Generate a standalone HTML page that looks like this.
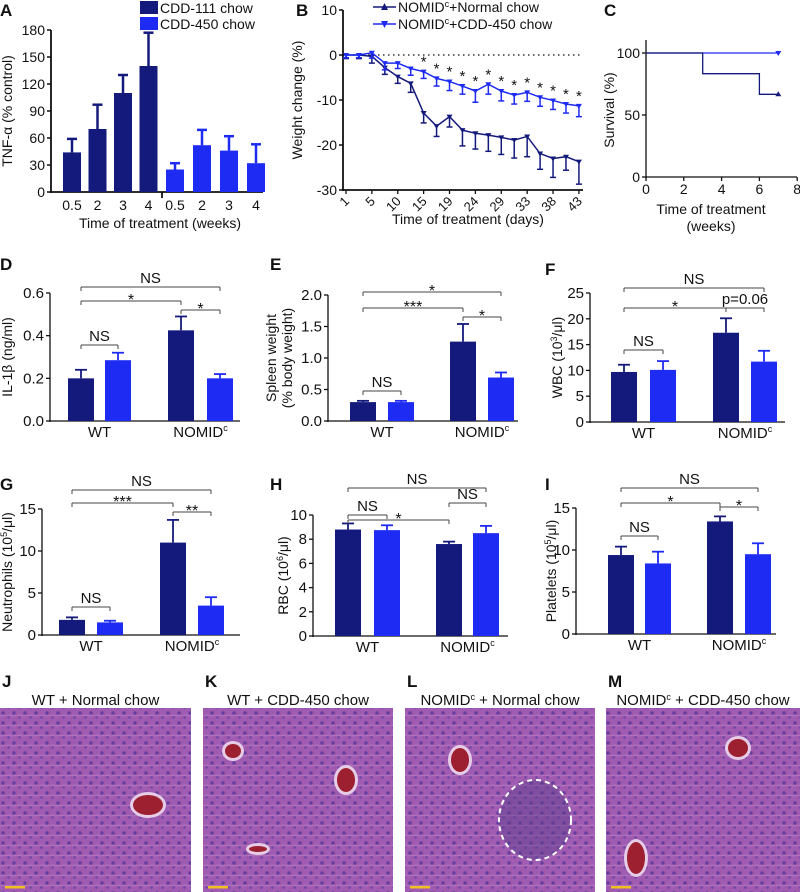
<!DOCTYPE html>
<html><head><meta charset="utf-8"><style>
html,body{margin:0;padding:0;background:#fff;}
svg{display:block;font-family:"Liberation Sans",Arial,sans-serif;}
</style></head><body>
<svg id="fig" width="800" height="892" viewBox="0 0 800 892" xmlns="http://www.w3.org/2000/svg">
<defs>
<pattern id="cells" width="11" height="10" patternUnits="userSpaceOnUse"><rect width="11" height="10" fill="#9f5cb2"/><circle cx="3" cy="3" r="1.7" fill="#56379a" opacity="0.8"/><circle cx="8.5" cy="7.5" r="1.4" fill="#5a3a9c" opacity="0.6"/><path d="M0 6 L11 5" stroke="#c58fc8" stroke-width="0.7" opacity="0.7"/><path d="M6 0 L5 10" stroke="#b0407a" stroke-width="0.5" opacity="0.5"/></pattern>
</defs>
</svg>
<script>
// ---- data ----
const aCats = ["0.5","2","3","4","0.5","2","3","4"];
const aVals = [44,70,110,140,25,52,46,32];
const aErr  = [15,27,20,37,7,17,16,21];
const aTicks = [0,30,60,90,120,150,180];

const bDayLabels = ["1","5","10","15","19","24","29","33","38","43"];
const bNormal = [0,0,-0.3,-2.8,-4.8,-6.3,-12.9,-15.8,-13.7,-16.7,-17.4,-17.8,-18.3,-18.9,-18.1,-21.9,-23,-22.6,-23.7];
const bNormalErr = [0.8,0.8,1.5,1.5,1.5,2,2.2,2.3,2.3,3.5,3.5,3.6,3.8,4,4.5,3.5,4.2,3,5];
const bCdd = [0,0,0.5,-1.8,-1.8,-3,-3.7,-5.2,-5.9,-6.9,-8,-6.5,-8,-8.9,-8.3,-9.4,-10.1,-10.9,-11.3];
const bCddErr = [0.6,0.6,1.2,1.5,1.2,1.5,1.5,1.7,2,1.8,2.5,2.2,2.2,2,2,2,2,2,2.4];
const bTicks = [10,0,-10,-20,-30];

const cNormalT = [0,3,3,6,6,7];
const cNormalS = [100,100,83.3,83.3,66.7,66.7];
const cCddT = [0,7];
const cCddS = [100,100];
const cXTicks = [0,2,4,6,8];
const cYTicks = [0,50,100];

const dVals = [0.2,0.285,0.425,0.2];   const dErr = [0.04,0.035,0.065,0.02];  const dTicks=[0,0.2,0.4,0.6];
const eVals = [0.3,0.3,1.26,0.69];     const eErr = [0.02,0.02,0.28,0.08];    const eTicks=[0,0.5,1.0,1.5,2.0];
const fVals = [9.7,10.1,17.3,11.7];    const fErr = [1.4,1.7,2.8,2.1];        const fTicks=[0,5,10,15,20,25];
const gVals = [1.8,1.5,11,3.5];        const gErr = [0.3,0.2,2.7,1.0];        const gTicks=[0,5,10,15];
const hVals = [8.8,8.75,7.6,8.5];      const hErr = [0.5,0.4,0.2,0.6];        const hTicks=[0,2,4,6,8,10];
const iVals = [9.4,8.4,13.4,9.5];      const iErr = [1.0,1.4,0.6,1.3];        const iTicks=[0,5,10,15];
const groups = ["WT","NOMID"];

const DARK="#141a7c", BLUE="#1e2bf3", INK="#111", GREY="#444";
const svg=document.getElementById('fig');
const NS="http://www.w3.org/2000/svg";
function mk(tag,attrs,parent,text){const e=document.createElementNS(NS,tag);for(const k in attrs)e.setAttribute(k,attrs[k]);if(text!==undefined)e.textContent=text;(parent||svg).appendChild(e);return e;}
function grp(name){const g=mk('g',{});return g;}
function txt(g,x,y,s,size,anchor,extra){const t=mk('text',Object.assign({x:x,y:y,'font-size':size,'text-anchor':anchor||'middle',fill:INK},extra||{}),g,s);return t;}
function lin(g,x1,y1,x2,y2,c,w,extra){return mk('line',Object.assign({x1:x1,y1:y1,x2:x2,y2:y2,stroke:c||INK,'stroke-width':w||1.5},extra||{}),g);}
function letter(s,x,y){const g=grp('panel-label-'+s.toLowerCase());txt(g,x,y,s,17,'start',{'font-weight':'bold'});}

// ---- Panel A ----
(function(){
 const g=grp('panel-a-tnf-chart');
 letter('A',0,16);
 const x0=51,x1=263,yTop=30,yBot=192,max=180;
 const y=v=>yBot-(v/max)*(yBot-yTop);
 const xc=i=>(i<4?72+i*25.5:175+(i-4)*27);
 lin(g,x0,yTop,x0,yBot+1,INK,1.8);lin(g,x0-1,yBot,x1,yBot,INK,1.8);lin(g,162,yBot,162,yBot+6,INK,1.8);
 aTicks.forEach(t=>{lin(g,x0-4,y(t),x0,y(t),INK,1.5);const l=txt(g,x0-6,y(t)+5,String(t),14,'end');});
 aVals.forEach((v,i)=>{
  const c=i<4?DARK:BLUE,cx=xc(i);
  const b=mk('rect',{x:cx-9,y:y(v),width:18,height:yBot-y(v),fill:c},g);
  
  
  lin(g,cx,y(v),cx,y(v+aErr[i]),c,2.5);lin(g,cx-5,y(v+aErr[i]),cx+5,y(v+aErr[i]),c,2.5);
  const l=txt(g,cx,210,aCats[i],14);
 });
 const yt=txt(g,0,0,'TNF-α (% control)',14,'middle',{transform:'translate(12,'+((yTop+yBot)/2)+') rotate(-90)'});
 
 const xt=txt(g,160,228,'Time of treatment (weeks)',14);
 const lg=grp('legend-a');
 mk('rect',{x:140,y:1,width:18,height:13,fill:DARK},lg);txt(lg,160,13,'CDD-111 chow',14,'start');
 mk('rect',{x:140,y:17,width:18,height:13,fill:BLUE},lg);txt(lg,160,29,'CDD-450 chow',14,'start');
})();

// ---- Panel B ----
(function(){
 const g=grp('panel-b-weight-chart');
 letter('B',296,16);
 const ax=343,yTop=10,yBot=190,x1=583;
 const y=v=>55-v*4.5;
 const x=i=>346+i*12.94;
 lin(g,ax,yTop,ax,yBot+1,INK,1.8);lin(g,ax-1,yBot,x1,yBot,INK,1.8);
 bTicks.forEach(t=>{lin(g,ax-4,y(t),ax,y(t),INK,1.5);const l=txt(g,ax-6,y(t)+5,String(t),14,'end');});
 lin(g,ax,55,x1,55,INK,1.3,{'stroke-dasharray':'1.5,3.5'});
 bDayLabels.forEach((d,k)=>{const px=x(k*2);lin(g,px,yBot,px,yBot+4,INK,1.3);const l=txt(g,px+4,yBot+12,d,13,'end',{transform:'rotate(-45 '+(px+4)+' '+(yBot+12)+')'});});
 function series(vals,err,c,name,up){
  const sg=grp('series-'+name);
  let d='';vals.forEach((v,i)=>{d+=(i?'L':'M')+x(i)+' '+y(v);});
  mk('path',{d:d,fill:'none',stroke:c,'stroke-width':1.5},sg);
  vals.forEach((v,i)=>{
   const ye=up?y(v+err[i]):y(v-err[i]);
   lin(sg,x(i),y(v),x(i),ye,c,1.5);lin(sg,x(i)-3,ye,x(i)+3,ye,c,1.5);
   const p=up?`${x(i)-3},${y(v)+2} ${x(i)+3},${y(v)+2} ${x(i)},${y(v)-3}`:`${x(i)-3},${y(v)-2} ${x(i)+3},${y(v)-2} ${x(i)},${y(v)+3}`;
   const m=mk('polygon',{points:p,fill:c},sg);
   
  });
 }
 series(bNormal,bNormalErr,DARK,'normal-chow',false);
 series(bCdd,bCddErr,BLUE,'cdd450-chow',false);
 bCdd.forEach((v,i)=>{if(i>=6){const s=txt(g,x(i),y(v)-5,'*',15);}});
 const yt=txt(g,0,0,'Weight change (%)',14,'middle',{transform:'translate(302,100) rotate(-90)'});
 const xt=txt(g,468,224,'Time of treatment (days)',14);
 const lg=grp('legend-b');
 lin(lg,373,7,396,7,DARK,1.5);mk('polygon',{points:'381,10 388,10 384.5,3',fill:DARK},lg);
 const t1=txt(lg,398,12,'',14,'start');t1.innerHTML='NOMID<tspan font-size="9" dy="-5">c</tspan><tspan dy="5">+Normal chow</tspan>';
 lin(lg,373,24,396,24,BLUE,1.5);mk('polygon',{points:'381,21 388,21 384.5,28',fill:BLUE},lg);
 const t2=txt(lg,398,29,'',14,'start');t2.innerHTML='NOMID<tspan font-size="9" dy="-5">c</tspan><tspan dy="5">+CDD-450 chow</tspan>';
})();

// ---- Panel C ----
(function(){
 const g=grp('panel-c-survival-chart');
 letter('C',604,16);
 const ax=646,yTop=40,yBot=177,x1=797;
 const x=v=>ax+v*18.9,y=v=>yBot-v*1.24;
 lin(g,ax,yTop,ax,yBot+1,INK,1.3);lin(g,ax-1,yBot,x1,yBot,INK,1.3);
 cYTicks.forEach(t=>{lin(g,ax-4,y(t),ax,y(t),INK,1.3);const l=txt(g,ax-6,y(t)+5,String(t),14,'end');});
 cXTicks.forEach(t=>{lin(g,x(t),yBot,x(t),yBot+4,INK,1.3);const l=txt(g,x(t),yBot+17,String(t),14);});
 function step(T,S,c,name,up){let d='';T.forEach((t,i)=>{d+=(i?'L':'M')+x(t)+' '+y(S[i]);});
  const p=mk('path',{d:d,fill:'none',stroke:c,'stroke-width':1.3},g);
  const lt=T[T.length-1],ls=S[S.length-1];mk('polygon',{points:up?`${x(lt)-3},${y(ls)+2} ${x(lt)+3},${y(ls)+2} ${x(lt)},${y(ls)-3}`:`${x(lt)-3},${y(ls)-2} ${x(lt)+3},${y(ls)-2} ${x(lt)},${y(ls)+3}`,fill:c},g);}
 step(cCddT,cCddS,BLUE,'cdd450',false);
 step(cNormalT,cNormalS,DARK,'normal',true);
 const yt=txt(g,0,0,'Survival (%)',14,'middle',{transform:'translate(614,110) rotate(-90)'});
 const xt=txt(g,711,214,'Time of treatment',14);
 txt(g,711,231,'(weeks)',14);
})();

// ---- bar panels ----
function barPanel(o){
 const g=grp(o.name);
 letter(o.letter,o.lx,o.ly);
 const y=v=>o.yBot-(v/o.max)*(o.yBot-o.yTop);
 lin(g,o.ax,o.yTop,o.ax,o.yBot+1,INK,1.3);lin(g,o.ax-1,o.yBot,o.ax+o.w,o.yBot,INK,1.3);
 o.ticks.forEach(t=>{lin(g,o.ax-4,y(t),o.ax,y(t),INK,1.3);const l=txt(g,o.ax-6,y(t)+5,o.fmt?t.toFixed(1):String(t),15,'end');});
 const cx=o.bx.map(b=>o.ax+b+13);
 o.vals.forEach((v,i)=>{
  const c=i%2?BLUE:DARK;
  const b=mk('rect',{x:cx[i]-13,y:y(v),width:26,height:o.yBot-y(v),fill:c},g);
  
  
  const ye=y(v+o.err[i]);lin(g,cx[i],y(v),cx[i],ye,c,1.8);lin(g,cx[i]-6,ye,cx[i]+6,ye,c,1.8);
 });
 [0,1].forEach(k=>{const mx=(cx[2*k]+cx[2*k+1])/2;const l=txt(g,mx,o.yBot+16,'',15);l.innerHTML=k?'NOMID<tspan font-size="9" dy="-6">c</tspan>':'WT';});
 o.br.forEach(b=>{const bg=grp('significance-bracket');const a=cx[b[0]],z=cx[b[1]];
  lin(bg,a,b[2],z,b[2],GREY,1);lin(bg,a,b[2],a,b[2]+4,GREY,1);lin(bg,z,b[2],z,b[2]+4,GREY,1);
  txt(bg,(a+z)/2,b[2]-(b[3]==='NS'||b[3].startsWith('p')?4:-4),b[3],b[3].startsWith('*')?16:15);});
 const yt=txt(g,0,0,'',14,'middle',{transform:'translate('+o.tx+','+((o.yTop+o.yBot)/2)+') rotate(-90)'});yt.innerHTML=o.title;
 
}
barPanel({name:'panel-d-il1b-chart',letter:'D',lx:0,ly:270,ax:50,w:190,yTop:293,yBot:421,max:0.6,ticks:dTicks,fmt:1,vals:dVals,err:dErr,bx:[18,55,118,157],tx:12,title:'IL-1β (ng/ml)',
 br:[[0,3,287,'NS'],[0,2,301,'*'],[2,3,310,'*'],[0,1,345,'NS']]});
barPanel({name:'panel-e-spleen-chart',letter:'E',lx:270,ly:270,ax:328,w:190,yTop:295,yBot:421,max:2.0,ticks:eTicks,fmt:1,vals:eVals,err:eErr,bx:[22,60,122,160],tx:281,
 title:'<tspan x="0" dy="-5">Spleen weight</tspan><tspan x="0" dy="16">(% body weight)</tspan>',br:[[0,3,292,'*'],[0,2,308,'***'],[2,3,317,'*'],[0,1,391,'NS']]});
barPanel({name:'panel-f-wbc-chart',letter:'F',lx:545,ly:275,ax:590,w:195,yTop:293,yBot:422,max:25,ticks:fTicks,vals:fVals,err:fErr,bx:[21,60,123,161],tx:562,
 title:'WBC (10<tspan font-size="9" dy="-5">3</tspan><tspan dy="5">/μl)</tspan>',br:[[0,3,288,'NS'],[0,2,308,'*'],[2,3,308,'p=0.06'],[0,1,350,'NS']]});
barPanel({name:'panel-g-neutrophils-chart',letter:'G',lx:0,ly:490,ax:42,w:198,yTop:509,yBot:635,max:15,ticks:gTicks,vals:gVals,err:gErr,bx:[17,55,118,156],tx:12,
 title:'Neutrophils (10<tspan font-size="9" dy="-5">5</tspan><tspan dy="5">/μl)</tspan>',br:[[0,3,490,'NS'],[0,2,503,'***'],[2,3,512,'**'],[0,1,607,'NS']]});
barPanel({name:'panel-h-rbc-chart',letter:'H',lx:270,ly:490,ax:313,w:195,yTop:515,yBot:636,max:10,ticks:hTicks,vals:hVals,err:hErr,bx:[22,61,123,160],tx:288,
 title:'RBC (10<tspan font-size="9" dy="-5">6</tspan><tspan dy="5">/μl)</tspan>',br:[[0,3,488,'NS'],[0,2,520,'*'],[2,3,503,'NS'],[0,1,515,'NS']]});
barPanel({name:'panel-i-platelets-chart',letter:'I',lx:545,ly:490,ax:576,w:200,yTop:508,yBot:634,max:15,ticks:iTicks,vals:iVals,err:iErr,bx:[32,69,131,169],tx:556,
 title:'Platelets (10<tspan font-size="9" dy="-5">5</tspan><tspan dy="5">/μl)</tspan>',br:[[0,3,488,'NS'],[0,2,503,'*'],[2,3,507,'*'],[0,1,536,'NS']]});

// ---- histology ----
const histo=[{l:'J',x:0,w:191,t:'WT + Normal chow'},{l:'K',x:203,w:190,t:'WT + CDD-450 chow'},{l:'L',x:405,w:190,t:'NOMID<tspan font-size="9" dy="-5">c</tspan><tspan dy="5"> + Normal chow</tspan>'},{l:'M',x:606,w:194,t:'NOMID<tspan font-size="9" dy="-5">c</tspan><tspan dy="5"> + CDD-450 chow</tspan>'}];
const vessels={J:[[148,97,15,10]],K:[[30,43,8,7],[143,72,9,12],[55,141,9,3]],L:[[55,52,9,12]],M:[[132,40,10,9],[30,150,9,16]]};
histo.forEach(h=>{
 const g=grp('histology-'+h.l.toLowerCase());
 letter(h.l,h.x+2,687);
 const t=txt(g,h.x+h.w/2,705,'',15);t.innerHTML=h.t;
 const r=mk('rect',{x:h.x,y:708,width:h.w,height:184,fill:'url(#cells)'},g);
 
 vessels[h.l].forEach(v=>{mk('ellipse',{cx:h.x+v[0],cy:708+v[1],rx:v[2]+3,ry:v[3]+3,fill:'#e6cce6'},g);mk('ellipse',{cx:h.x+v[0],cy:708+v[1],rx:v[2],ry:v[3],fill:'#9c2030'},g);});
 if(h.l==='L'){mk('ellipse',{cx:h.x+130,cy:708+112,rx:36,ry:40,fill:'#5a3f8c',opacity:0.45},g);mk('ellipse',{cx:h.x+130,cy:708+112,rx:36,ry:40,fill:'none',stroke:'#fff','stroke-width':2,'stroke-dasharray':'5,4'},g);}
 mk('rect',{x:h.x+5,y:886,width:20,height:2.5,fill:'#f0c020'},g);
});
</script>
</body></html>
